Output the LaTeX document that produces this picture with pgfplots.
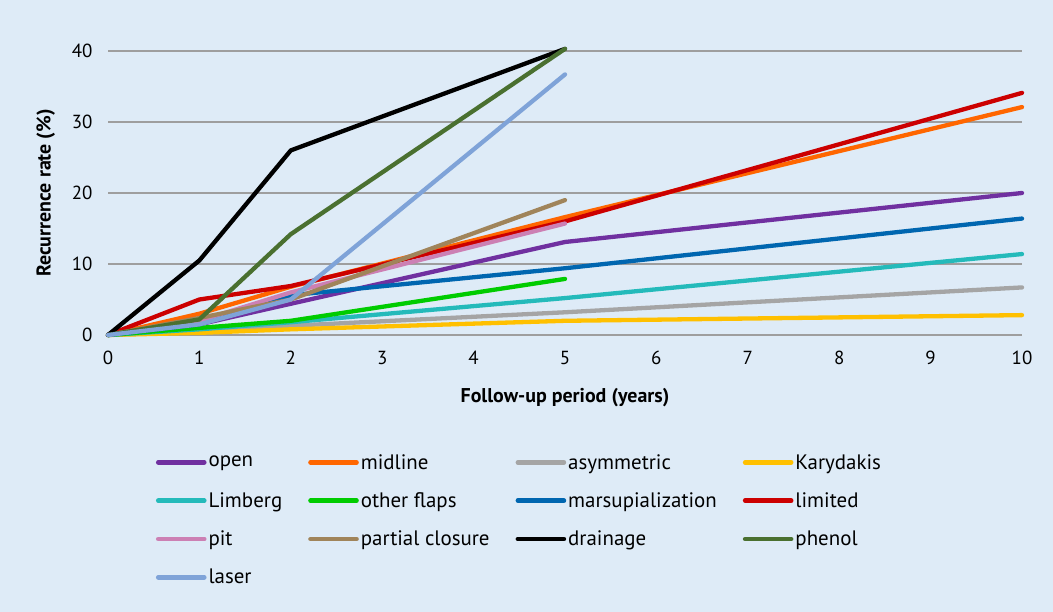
\documentclass[border=0pt]{standalone}
\usepackage{pgfplots}
\pgfplotsset{compat=1.18}
\usepackage{fontspec}
\setmainfont{PT Sans}
\definecolor{bg}{RGB}{222,235,247}
\definecolor{cOpen}{RGB}{112,48,160}
\definecolor{cMid}{RGB}{255,102,0}
\definecolor{cAsym}{RGB}{165,165,165}
\definecolor{cKary}{RGB}{255,192,0}
\definecolor{cLim}{RGB}{36,186,186}
\definecolor{cOther}{RGB}{0,204,0}
\definecolor{cMars}{RGB}{0,102,176}
\definecolor{cLimited}{RGB}{204,0,0}
\definecolor{cPit}{RGB}{204,128,180}
\definecolor{cPart}{RGB}{160,132,90}
\definecolor{cDrain}{RGB}{0,0,0}
\definecolor{cPhen}{RGB}{74,112,48}
\definecolor{cLaser}{RGB}{127,163,216}
\begin{document}
\begin{tikzpicture}
\fill[bg] (0,0) rectangle (1053bp,612bp);
\useasboundingbox (0,0) rectangle (1053bp,612bp);
\begin{axis}[
  at={(108bp,277bp)}, anchor=south west,
  scale only axis, width=914bp, height=284bp,
  xmin=0, xmax=10, ymin=0, ymax=40,
  clip=false,
  axis line style={draw=none},
  tick style={draw=none},
  xtick={0,1,...,10}, ytick={0,10,20,30,40},
  ymajorgrids, grid style={color=black!38, line width=1.3bp},
  ticklabel style={font=\fontsize{19}{21}\selectfont},
  /pgf/number format/assume math mode=true,
  xticklabel style={yshift=-13bp},
  yticklabel style={xshift=-12bp},
  xlabel={\bfseries Follow-up period (years)},
  ylabel={\bfseries Recurrence rate (\%)},
  label style={font=\fontsize{20}{22}\selectfont},
  xlabel style={yshift=-16bp},
  ylabel style={yshift=10bp},
  every axis plot/.append style={line width=4.3bp, line join=round, line cap=round},
  legend columns=4,
  legend cell align=left,
  legend style={at={(0.049,-0.405)}, anchor=north west, draw=none, fill=none,
    font=\fontsize{21}{23}\selectfont, row sep=18bp,
    /tikz/every even column/.append style={column sep=24bp}},
  legend image code/.code={\draw[#1, line width=4.6bp, line cap=round] (0bp,0bp) -- (46bp,0bp);},
]
\addplot[cOpen] coordinates {(0,0) (1,1.5) (2,4.4) (5,13.1) (10,20)};
\addlegendentry{open}
\addplot[cMid] coordinates {(0,0) (1,3) (2,6.8) (5,16.6) (10,32.1)};
\addlegendentry{midline}
\addplot[cAsym] coordinates {(0,0) (1,0.5) (2,1.3) (5,3.2) (10,6.7)};
\addlegendentry{asymmetric}
\addplot[cKary] coordinates {(0,0) (1,0.3) (2,0.8) (5,2) (10,2.8)};
\addlegendentry{Karydakis}
\addplot[cLim] coordinates {(0,0) (1,0.8) (2,1.8) (5,5.2) (10,11.4)};
\addlegendentry{Limberg}
\addplot[cOther] coordinates {(0,0) (1,1) (2,2) (5,7.9)};
\addlegendentry{other flaps}
\addplot[cMars] coordinates {(0,0) (1,1.5) (2,5.6) (5,9.4) (10,16.4)};
\addlegendentry{marsupialization}
\addplot[cLimited] coordinates {(0,0) (1,5) (2,6.9) (5,16) (10,34.1)};
\addlegendentry{limited}
\addplot[cPit] coordinates {(0,0) (1,2) (2,6) (5,15.7)};
\addlegendentry{pit}
\addplot[cPart] coordinates {(0,0) (1,2.4) (2,5) (5,19)};
\addlegendentry{partial closure}
\addplot[cDrain] coordinates {(0,0) (1,10.5) (2,26) (5,40.3)};
\addlegendentry{drainage}
\addplot[cPhen] coordinates {(0,0) (1,2.2) (2,14.2) (5,40.3)};
\addlegendentry{phenol}
\addplot[cLaser] coordinates {(0,0) (1,1.5) (2,5) (5,36.7)};
\addlegendentry{laser}
\end{axis}
\end{tikzpicture}
\end{document}
